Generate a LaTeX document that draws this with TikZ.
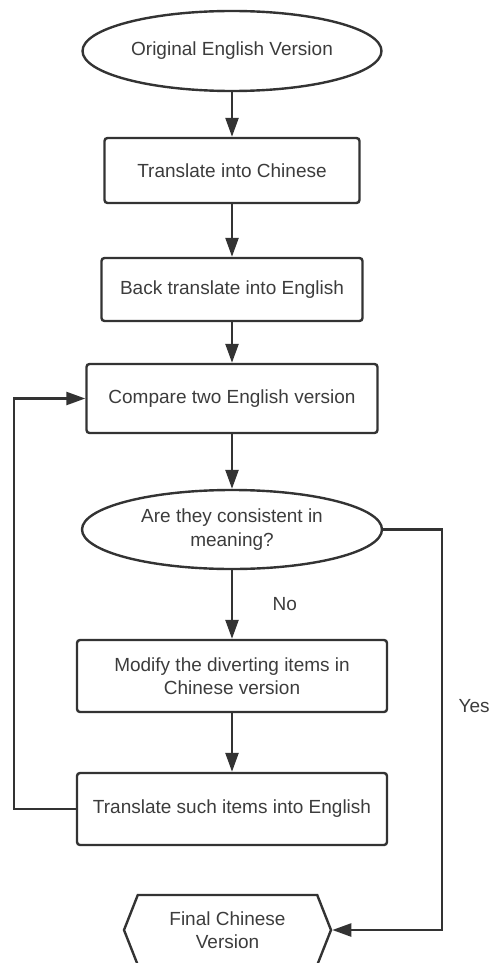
\documentclass[tikz,border=0pt]{standalone}
\usepackage{fontspec}
\setmainfont{Liberation Sans}
\usetikzlibrary{arrows.meta}
\usetikzlibrary{shapes}

\definecolor{lineGray}{HTML}{333333}
\definecolor{textGray}{HTML}{3C3C3C}

\begin{document}
\begin{tikzpicture}[x = 1pt, y = -1pt]
	\tikzstyle{textStyle} = [text = textGray, font = \fontsize{19}{23.5}\selectfont, align = center]
	\tikzstyle{boxStyle} = [textStyle, shape = rectangle, rounded corners = 3pt, draw = lineGray, line width = 2.4pt, inner sep = 0pt]
	\tikzstyle{ovalStyle} = [textStyle, shape = ellipse, draw = lineGray, line width = 2.4pt, inner sep = 0pt]
	\tikzstyle{endStyle} = [textStyle, shape = signal, signal to = west and east, signal pointer angle = 137, draw = lineGray, line width = 2.4pt, inner sep = 0pt]
	\tikzstyle{arrowStyle} = [draw = lineGray, line width = 2.4pt, -{Triangle[length = 19pt, width = 13pt]}]
	\useasboundingbox (0, 0) rectangle (492, 963);
	\node[ovalStyle, minimum width = 299pt, minimum height = 80pt] (v0) at (232, 51) {Original English Version};
	\node[boxStyle, minimum width = 255pt, minimum height = 65pt] (v1) at (232, 170.5) {Translate into Chinese};
	\node[boxStyle, minimum width = 261pt, minimum height = 63pt] (v2) at (232, 289.5) {Back translate into English};
	\node[boxStyle, minimum width = 291pt, minimum height = 69pt] (v3) at (232, 398.5) {Compare two English version};
	\node[ovalStyle, minimum width = 300pt, minimum height = 79pt] (v4) at (232, 529.5) {Are they consistent in\\meaning?};
	\node[boxStyle, minimum width = 310pt, minimum height = 72pt] (v5) at (232, 676) {Modify the diverting items in\\Chinese version};
	\node[boxStyle, minimum width = 310pt, minimum height = 72pt] (v6) at (232, 809) {Translate such items into English};
	\node[endStyle, minimum width = 207pt, minimum height = 70pt] (v7) at (227.5, 930) {Final Chinese\\Version};
	\draw[arrowStyle] (v0) -- (v1);
	\draw[arrowStyle] (v1) -- (v2);
	\draw[arrowStyle] (v2) -- (v3);
	\draw[arrowStyle] (v3) -- (v4);
	\draw[arrowStyle] (v4) -- node[textStyle, right = 36pt] {No} (v5);
	\draw[arrowStyle] (v5) -- (v6);
	\draw[arrowStyle] (v6.west) -- ++(-62, 0) |- (v3.west);
	\draw[arrowStyle] (v4.east) -- ++(59, 0) |- node[textStyle, right = 12pt, pos = 0.22] {Yes} (v7.east);
\end{tikzpicture}
\end{document}
